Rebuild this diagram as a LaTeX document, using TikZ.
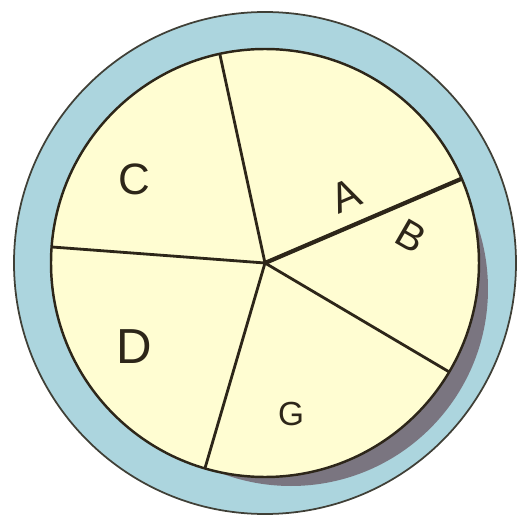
\documentclass[tikz,border=0pt]{standalone}
\usepackage{fontspec}
\setmainfont{Liberation Sans}
\usepackage{tikz}
\usetikzlibrary{positioning}

\definecolor{ringblue}{RGB}{172,213,222}
\definecolor{pieyellow}{RGB}{255,253,210}
\definecolor{shadowgray}{RGB}{122,117,128}
\definecolor{inkdark}{RGB}{45,38,25}

\begin{document}
\begin{tikzpicture}[x=0.02cm, y=0.02cm,
  spoke/.style={draw=inkdark, line width=1.6pt},
  lbl/.style={text=inkdark, inner sep=0pt}]
  \useasboundingbox (-265,-255) rectangle (267,263);

  % Outer ring and shadow
  \fill[ringblue, draw=inkdark!85!ringblue, line width=1pt] (0,0) circle (251);
  \fill[shadowgray] (26,-26) circle (197);
  \fill[pieyellow, draw=inkdark, line width=1.4pt] (0,0) circle (214);

  % Centre and rim points
  \coordinate (o) at (0,0);
  \coordinate (rimCA) at (102.2:214);
  \coordinate (rimCD) at (175.7:214);
  \coordinate (rimAB) at (23.2:214);
  \coordinate (rimBG) at (-30.6:214);
  \coordinate (rimDG) at (-106.3:214);

  \draw[spoke] (o) -- (rimCA);
  \draw[spoke] (o) -- (rimCD);
  \draw[spoke, line width=2.4pt] (o) -- (rimAB);
  \draw[spoke] (o) -- (rimBG);
  \draw[spoke] (o) -- (rimDG);

  % Labels
  \node[lbl, font=\fontsize{25}{29}\selectfont] (c) at (-131,84) {C};
  \node[lbl, font=\fontsize{24}{28}\selectfont, rotate=23] (a) at (81,67) {A};
  \node[lbl, font=\fontsize{23}{27}\selectfont, rotate=-30] (b) at (146,27) {B};
  \node[lbl, font=\fontsize{28}{32}\selectfont] (d) at (-131,-84) {D};
  \node[lbl, font=\fontsize{19}{23}\selectfont] (g) at (26,-151) {G};

\end{tikzpicture}
\end{document}
